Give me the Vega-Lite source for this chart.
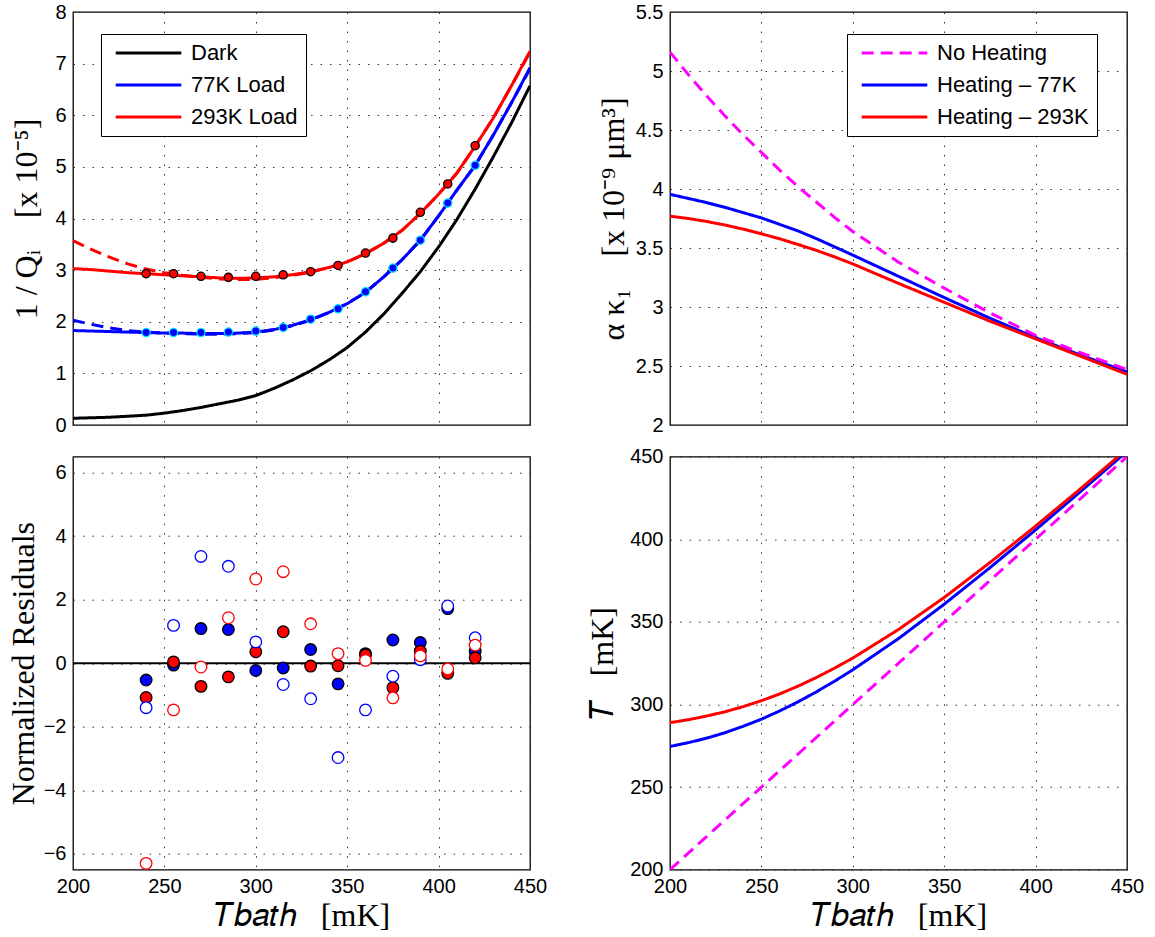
{
  "$schema": "https://vega.github.io/schema/vega-lite/v6.json",
  "background": "white",
  "padding": {"left": 6, "top": 1, "right": 5, "bottom": 5},
  "columns": 2,
  "spacing": {"row": 31.7, "column": 140},
  "bounds": "flush",
  "resolve": {
    "scale": {"color": "independent", "fill": "independent", "stroke": "independent", "strokeDash": "independent"},
    "legend": {"color": "independent", "fill": "independent", "stroke": "independent", "strokeDash": "independent"}
  },
  "config": {
    "font": "Liberation Sans",
    "view": {"stroke": "#000000", "strokeWidth": 1.3},
    "axis": {"labelFont": "Liberation Sans", "labelFontSize": 20, "labelColor": "#000000", "labelPadding": 7, "labelFlush": false, "labelOverlap": false, "ticks": false, "domain": false, "grid": true, "gridColor": "#333333", "gridDash": [1.5, 8], "gridWidth": 1, "titleFont": "Liberation Serif", "titleFontSize": 32, "titleFontWeight": "normal", "titleColor": "#000000"},
    "legend": {"symbolType": "stroke", "symbolSize": 4300, "symbolStrokeWidth": 3, "labelFont": "Liberation Sans", "labelFontSize": 22, "labelColor": "#000000", "strokeColor": "#000000", "fillColor": "#ffffff", "padding": 8, "rowPadding": 10, "clipHeight": 22, "labelOffset": 8, "symbolOffset": 5, "labelLimit": 400}
  },
  "datasets": {
    "tl_lines": [
      {"T":200,"v":0.13,"series":"Dark","style":"solid"},{"T":210,"v":0.14,"series":"Dark","style":"solid"},{"T":220,"v":0.15,"series":"Dark","style":"solid"},{"T":230,"v":0.17,"series":"Dark","style":"solid"},{"T":240,"v":0.19,"series":"Dark","style":"solid"},{"T":250,"v":0.23,"series":"Dark","style":"solid"},{"T":260,"v":0.28,"series":"Dark","style":"solid"},{"T":270,"v":0.34,"series":"Dark","style":"solid"},{"T":280,"v":0.41,"series":"Dark","style":"solid"},{"T":290,"v":0.48,"series":"Dark","style":"solid"},{"T":300,"v":0.57,"series":"Dark","style":"solid"},{"T":310,"v":0.71,"series":"Dark","style":"solid"},{"T":320,"v":0.87,"series":"Dark","style":"solid"},{"T":330,"v":1.05,"series":"Dark","style":"solid"},{"T":340,"v":1.26,"series":"Dark","style":"solid"},{"T":350,"v":1.50,"series":"Dark","style":"solid"},{"T":360,"v":1.80,"series":"Dark","style":"solid"},{"T":370,"v":2.15,"series":"Dark","style":"solid"},{"T":380,"v":2.55,"series":"Dark","style":"solid"},{"T":390,"v":2.97,"series":"Dark","style":"solid"},{"T":400,"v":3.45,"series":"Dark","style":"solid"},{"T":410,"v":3.98,"series":"Dark","style":"solid"},{"T":420,"v":4.57,"series":"Dark","style":"solid"},{"T":430,"v":5.20,"series":"Dark","style":"solid"},{"T":440,"v":5.86,"series":"Dark","style":"solid"},{"T":450,"v":6.57,"series":"Dark","style":"solid"},
      {"T":200,"v":1.83,"series":"77K Load","style":"solid"},{"T":210,"v":1.82,"series":"77K Load","style":"solid"},{"T":220,"v":1.81,"series":"77K Load","style":"solid"},{"T":230,"v":1.80,"series":"77K Load","style":"solid"},{"T":240,"v":1.79,"series":"77K Load","style":"solid"},{"T":250,"v":1.78,"series":"77K Load","style":"solid"},{"T":260,"v":1.78,"series":"77K Load","style":"solid"},{"T":270,"v":1.77,"series":"77K Load","style":"solid"},{"T":280,"v":1.77,"series":"77K Load","style":"solid"},{"T":290,"v":1.78,"series":"77K Load","style":"solid"},{"T":300,"v":1.80,"series":"77K Load","style":"solid"},{"T":310,"v":1.85,"series":"77K Load","style":"solid"},{"T":320,"v":1.93,"series":"77K Load","style":"solid"},{"T":330,"v":2.04,"series":"77K Load","style":"solid"},{"T":340,"v":2.18,"series":"77K Load","style":"solid"},{"T":350,"v":2.35,"series":"77K Load","style":"solid"},{"T":360,"v":2.57,"series":"77K Load","style":"solid"},{"T":370,"v":2.87,"series":"77K Load","style":"solid"},{"T":380,"v":3.20,"series":"77K Load","style":"solid"},{"T":390,"v":3.58,"series":"77K Load","style":"solid"},{"T":400,"v":4.05,"series":"77K Load","style":"solid"},{"T":410,"v":4.55,"series":"77K Load","style":"solid"},{"T":420,"v":5.03,"series":"77K Load","style":"solid"},{"T":430,"v":5.62,"series":"77K Load","style":"solid"},{"T":440,"v":6.25,"series":"77K Load","style":"solid"},{"T":450,"v":6.92,"series":"77K Load","style":"solid"},
      {"T":200,"v":2.03,"series":"77K Load","style":"dashed"},{"T":210,"v":1.95,"series":"77K Load","style":"dashed"},{"T":220,"v":1.88,"series":"77K Load","style":"dashed"},{"T":230,"v":1.83,"series":"77K Load","style":"dashed"},{"T":240,"v":1.80,"series":"77K Load","style":"dashed"},{"T":250,"v":1.78,"series":"77K Load","style":"dashed"},{"T":260,"v":1.77,"series":"77K Load","style":"dashed"},{"T":270,"v":1.76,"series":"77K Load","style":"dashed"},{"T":280,"v":1.76,"series":"77K Load","style":"dashed"},{"T":290,"v":1.77,"series":"77K Load","style":"dashed"},{"T":300,"v":1.79,"series":"77K Load","style":"dashed"},{"T":310,"v":1.84,"series":"77K Load","style":"dashed"},{"T":320,"v":1.92,"series":"77K Load","style":"dashed"},{"T":330,"v":2.03,"series":"77K Load","style":"dashed"},{"T":340,"v":2.18,"series":"77K Load","style":"dashed"},{"T":350,"v":2.35,"series":"77K Load","style":"dashed"},{"T":360,"v":2.57,"series":"77K Load","style":"dashed"},{"T":370,"v":2.87,"series":"77K Load","style":"dashed"},{"T":380,"v":3.20,"series":"77K Load","style":"dashed"},{"T":390,"v":3.58,"series":"77K Load","style":"dashed"},{"T":400,"v":4.05,"series":"77K Load","style":"dashed"},{"T":410,"v":4.55,"series":"77K Load","style":"dashed"},{"T":420,"v":5.03,"series":"77K Load","style":"dashed"},{"T":430,"v":5.62,"series":"77K Load","style":"dashed"},{"T":440,"v":6.25,"series":"77K Load","style":"dashed"},{"T":450,"v":6.90,"series":"77K Load","style":"dashed"},
      {"T":200,"v":3.03,"series":"293K Load","style":"solid"},{"T":210,"v":3.01,"series":"293K Load","style":"solid"},{"T":220,"v":2.98,"series":"293K Load","style":"solid"},{"T":230,"v":2.95,"series":"293K Load","style":"solid"},{"T":240,"v":2.93,"series":"293K Load","style":"solid"},{"T":250,"v":2.91,"series":"293K Load","style":"solid"},{"T":260,"v":2.89,"series":"293K Load","style":"solid"},{"T":270,"v":2.87,"series":"293K Load","style":"solid"},{"T":280,"v":2.85,"series":"293K Load","style":"solid"},{"T":290,"v":2.84,"series":"293K Load","style":"solid"},{"T":300,"v":2.85,"series":"293K Load","style":"solid"},{"T":310,"v":2.87,"series":"293K Load","style":"solid"},{"T":320,"v":2.91,"series":"293K Load","style":"solid"},{"T":330,"v":2.97,"series":"293K Load","style":"solid"},{"T":340,"v":3.05,"series":"293K Load","style":"solid"},{"T":350,"v":3.16,"series":"293K Load","style":"solid"},{"T":360,"v":3.32,"series":"293K Load","style":"solid"},{"T":370,"v":3.52,"series":"293K Load","style":"solid"},{"T":380,"v":3.77,"series":"293K Load","style":"solid"},{"T":390,"v":4.10,"series":"293K Load","style":"solid"},{"T":400,"v":4.47,"series":"293K Load","style":"solid"},{"T":410,"v":4.88,"series":"293K Load","style":"solid"},{"T":420,"v":5.40,"series":"293K Load","style":"solid"},{"T":430,"v":5.95,"series":"293K Load","style":"solid"},{"T":440,"v":6.58,"series":"293K Load","style":"solid"},{"T":450,"v":7.24,"series":"293K Load","style":"solid"},
      {"T":200,"v":3.57,"series":"293K Load","style":"dashed"},{"T":210,"v":3.40,"series":"293K Load","style":"dashed"},{"T":220,"v":3.25,"series":"293K Load","style":"dashed"},{"T":230,"v":3.12,"series":"293K Load","style":"dashed"},{"T":240,"v":3.02,"series":"293K Load","style":"dashed"},{"T":250,"v":2.95,"series":"293K Load","style":"dashed"},{"T":260,"v":2.90,"series":"293K Load","style":"dashed"},{"T":270,"v":2.86,"series":"293K Load","style":"dashed"},{"T":280,"v":2.83,"series":"293K Load","style":"dashed"},{"T":290,"v":2.82,"series":"293K Load","style":"dashed"},{"T":300,"v":2.82,"series":"293K Load","style":"dashed"},{"T":310,"v":2.85,"series":"293K Load","style":"dashed"},{"T":320,"v":2.90,"series":"293K Load","style":"dashed"},{"T":330,"v":2.96,"series":"293K Load","style":"dashed"},{"T":340,"v":3.05,"series":"293K Load","style":"dashed"},{"T":350,"v":3.16,"series":"293K Load","style":"dashed"},{"T":360,"v":3.32,"series":"293K Load","style":"dashed"},{"T":370,"v":3.52,"series":"293K Load","style":"dashed"},{"T":380,"v":3.77,"series":"293K Load","style":"dashed"},{"T":390,"v":4.10,"series":"293K Load","style":"dashed"},{"T":400,"v":4.47,"series":"293K Load","style":"dashed"},{"T":410,"v":4.88,"series":"293K Load","style":"dashed"},{"T":420,"v":5.40,"series":"293K Load","style":"dashed"},{"T":430,"v":5.95,"series":"293K Load","style":"dashed"},{"T":440,"v":6.58,"series":"293K Load","style":"dashed"},{"T":450,"v":7.22,"series":"293K Load","style":"dashed"}
    ],
    "tl_pts": [
      {"T":240,"v":1.79,"series":"77K Load"},{"T":255,"v":1.79,"series":"77K Load"},{"T":270,"v":1.79,"series":"77K Load"},{"T":285,"v":1.80,"series":"77K Load"},{"T":300,"v":1.82,"series":"77K Load"},{"T":315,"v":1.89,"series":"77K Load"},{"T":330,"v":2.05,"series":"77K Load"},{"T":345,"v":2.25,"series":"77K Load"},{"T":360,"v":2.58,"series":"77K Load"},{"T":375,"v":3.04,"series":"77K Load"},{"T":390,"v":3.58,"series":"77K Load"},{"T":405,"v":4.30,"series":"77K Load"},{"T":420,"v":5.03,"series":"77K Load"},
      {"T":240,"v":2.93,"series":"293K Load"},{"T":255,"v":2.93,"series":"293K Load"},{"T":270,"v":2.88,"series":"293K Load"},{"T":285,"v":2.86,"series":"293K Load"},{"T":300,"v":2.88,"series":"293K Load"},{"T":315,"v":2.91,"series":"293K Load"},{"T":330,"v":2.97,"series":"293K Load"},{"T":345,"v":3.09,"series":"293K Load"},{"T":360,"v":3.33,"series":"293K Load"},{"T":375,"v":3.62,"series":"293K Load"},{"T":390,"v":4.12,"series":"293K Load"},{"T":405,"v":4.67,"series":"293K Load"},{"T":420,"v":5.41,"series":"293K Load"}
    ],
    "tr_lines": [
      {"T":200,"v":3.955,"series":"Heating – 77K"},{"T":210,"v":3.92,"series":"Heating – 77K"},{"T":220,"v":3.885,"series":"Heating – 77K"},{"T":230,"v":3.845,"series":"Heating – 77K"},{"T":240,"v":3.80,"series":"Heating – 77K"},{"T":250,"v":3.755,"series":"Heating – 77K"},{"T":260,"v":3.70,"series":"Heating – 77K"},{"T":270,"v":3.645,"series":"Heating – 77K"},{"T":280,"v":3.58,"series":"Heating – 77K"},{"T":290,"v":3.51,"series":"Heating – 77K"},{"T":300,"v":3.44,"series":"Heating – 77K"},{"T":325,"v":3.26,"series":"Heating – 77K"},{"T":350,"v":3.08,"series":"Heating – 77K"},{"T":375,"v":2.905,"series":"Heating – 77K"},{"T":400,"v":2.74,"series":"Heating – 77K"},{"T":425,"v":2.59,"series":"Heating – 77K"},{"T":450,"v":2.45,"series":"Heating – 77K"},
      {"T":200,"v":3.77,"series":"Heating – 293K"},{"T":210,"v":3.75,"series":"Heating – 293K"},{"T":220,"v":3.725,"series":"Heating – 293K"},{"T":230,"v":3.695,"series":"Heating – 293K"},{"T":240,"v":3.66,"series":"Heating – 293K"},{"T":250,"v":3.62,"series":"Heating – 293K"},{"T":260,"v":3.578,"series":"Heating – 293K"},{"T":270,"v":3.53,"series":"Heating – 293K"},{"T":280,"v":3.48,"series":"Heating – 293K"},{"T":290,"v":3.425,"series":"Heating – 293K"},{"T":300,"v":3.365,"series":"Heating – 293K"},{"T":325,"v":3.20,"series":"Heating – 293K"},{"T":350,"v":3.04,"series":"Heating – 293K"},{"T":375,"v":2.88,"series":"Heating – 293K"},{"T":400,"v":2.73,"series":"Heating – 293K"},{"T":425,"v":2.58,"series":"Heating – 293K"},{"T":450,"v":2.43,"series":"Heating – 293K"},
      {"T":200,"v":5.16,"series":"No Heating"},{"T":210,"v":4.97,"series":"No Heating"},{"T":220,"v":4.79,"series":"No Heating"},{"T":230,"v":4.62,"series":"No Heating"},{"T":240,"v":4.46,"series":"No Heating"},{"T":250,"v":4.31,"series":"No Heating"},{"T":260,"v":4.16,"series":"No Heating"},{"T":270,"v":4.02,"series":"No Heating"},{"T":280,"v":3.89,"series":"No Heating"},{"T":290,"v":3.76,"series":"No Heating"},{"T":300,"v":3.64,"series":"No Heating"},{"T":325,"v":3.38,"series":"No Heating"},{"T":350,"v":3.16,"series":"No Heating"},{"T":375,"v":2.95,"series":"No Heating"},{"T":400,"v":2.76,"series":"No Heating"},{"T":425,"v":2.61,"series":"No Heating"},{"T":450,"v":2.47,"series":"No Heating"}
    ],
    "bl_pts": [
      {"T":240,"r":-0.53,"kind":"77K heating"},{"T":255,"r":-0.06,"kind":"77K heating"},{"T":270,"r":1.09,"kind":"77K heating"},{"T":285,"r":1.06,"kind":"77K heating"},{"T":300,"r":-0.23,"kind":"77K heating"},{"T":315,"r":-0.15,"kind":"77K heating"},{"T":330,"r":0.43,"kind":"77K heating"},{"T":345,"r":-0.65,"kind":"77K heating"},{"T":360,"r":0.30,"kind":"77K heating"},{"T":375,"r":0.73,"kind":"77K heating"},{"T":390,"r":0.65,"kind":"77K heating"},{"T":405,"r":1.72,"kind":"77K heating"},{"T":420,"r":0.38,"kind":"77K heating"},
      {"T":240,"r":-1.08,"kind":"293K heating"},{"T":255,"r":0.04,"kind":"293K heating"},{"T":270,"r":-0.73,"kind":"293K heating"},{"T":285,"r":-0.43,"kind":"293K heating"},{"T":300,"r":0.36,"kind":"293K heating"},{"T":315,"r":0.99,"kind":"293K heating"},{"T":330,"r":-0.09,"kind":"293K heating"},{"T":345,"r":-0.08,"kind":"293K heating"},{"T":360,"r":0.26,"kind":"293K heating"},{"T":375,"r":-0.77,"kind":"293K heating"},{"T":390,"r":0.38,"kind":"293K heating"},{"T":405,"r":-0.32,"kind":"293K heating"},{"T":420,"r":0.17,"kind":"293K heating"},
      {"T":240,"r":-1.40,"kind":"77K no heating"},{"T":255,"r":1.19,"kind":"77K no heating"},{"T":270,"r":3.36,"kind":"77K no heating"},{"T":285,"r":3.05,"kind":"77K no heating"},{"T":300,"r":0.67,"kind":"77K no heating"},{"T":315,"r":-0.67,"kind":"77K no heating"},{"T":330,"r":-1.12,"kind":"77K no heating"},{"T":345,"r":-2.97,"kind":"77K no heating"},{"T":360,"r":-1.47,"kind":"77K no heating"},{"T":375,"r":-0.41,"kind":"77K no heating"},{"T":390,"r":0.11,"kind":"77K no heating"},{"T":405,"r":1.80,"kind":"77K no heating"},{"T":420,"r":0.80,"kind":"77K no heating"},
      {"T":240,"r":-6.30,"kind":"293K no heating"},{"T":255,"r":-1.47,"kind":"293K no heating"},{"T":270,"r":-0.12,"kind":"293K no heating"},{"T":285,"r":1.43,"kind":"293K no heating"},{"T":300,"r":2.65,"kind":"293K no heating"},{"T":315,"r":2.88,"kind":"293K no heating"},{"T":330,"r":1.24,"kind":"293K no heating"},{"T":345,"r":0.30,"kind":"293K no heating"},{"T":360,"r":0.09,"kind":"293K no heating"},{"T":375,"r":-1.09,"kind":"293K no heating"},{"T":390,"r":0.23,"kind":"293K no heating"},{"T":405,"r":-0.18,"kind":"293K no heating"},{"T":420,"r":0.57,"kind":"293K no heating"}
    ],
    "br_lines": [
      {"T":200,"v":274.6,"series":"Heating – 77K"},{"T":210,"v":276.9,"series":"Heating – 77K"},{"T":220,"v":279.6,"series":"Heating – 77K"},{"T":230,"v":282.9,"series":"Heating – 77K"},{"T":240,"v":286.8,"series":"Heating – 77K"},{"T":250,"v":291.1,"series":"Heating – 77K"},{"T":260,"v":296.1,"series":"Heating – 77K"},{"T":270,"v":301.6,"series":"Heating – 77K"},{"T":280,"v":307.6,"series":"Heating – 77K"},{"T":290,"v":314.1,"series":"Heating – 77K"},{"T":300,"v":321.0,"series":"Heating – 77K"},{"T":325,"v":339.9,"series":"Heating – 77K"},{"T":350,"v":360.7,"series":"Heating – 77K"},{"T":375,"v":382.8,"series":"Heating – 77K"},{"T":400,"v":405.7,"series":"Heating – 77K"},{"T":425,"v":429.3,"series":"Heating – 77K"},{"T":450,"v":453.2,"series":"Heating – 77K"},
      {"T":200,"v":289.0,"series":"Heating – 293K"},{"T":210,"v":290.8,"series":"Heating – 293K"},{"T":220,"v":293.0,"series":"Heating – 293K"},{"T":230,"v":295.6,"series":"Heating – 293K"},{"T":240,"v":298.7,"series":"Heating – 293K"},{"T":250,"v":302.3,"series":"Heating – 293K"},{"T":260,"v":306.4,"series":"Heating – 293K"},{"T":270,"v":311.1,"series":"Heating – 293K"},{"T":280,"v":316.3,"series":"Heating – 293K"},{"T":290,"v":322.0,"series":"Heating – 293K"},{"T":300,"v":328.1,"series":"Heating – 293K"},{"T":325,"v":345.4,"series":"Heating – 293K"},{"T":350,"v":364.8,"series":"Heating – 293K"},{"T":375,"v":385.9,"series":"Heating – 293K"},{"T":400,"v":408.0,"series":"Heating – 293K"},{"T":425,"v":431.0,"series":"Heating – 293K"},{"T":450,"v":454.6,"series":"Heating – 293K"},
      {"T":200,"v":200,"series":"No Heating"},{"T":250,"v":250,"series":"No Heating"},{"T":300,"v":300,"series":"No Heating"},{"T":350,"v":350,"series":"No Heating"},{"T":400,"v":400,"series":"No Heating"},{"T":450,"v":450,"series":"No Heating"}
    ],
    "zero": [{"ref": 0}]
  },
  "concat": [
    {
      "width": 457, "height": 413,
      "layer": [
        {
          "data": {"name": "tl_lines"},
          "mark": {"type": "line", "strokeWidth": 3, "clip": true},
          "encoding": {
            "x": {"field": "T", "type": "quantitative", "scale": {"domain": [200, 450], "nice": false, "zero": false}, "axis": {"labels": false, "title": null, "values": [200, 250, 300, 350, 400, 450]}},
            "y": {"field": "v", "type": "quantitative", "scale": {"domain": [0, 8], "nice": false, "zero": false}, "axis": {"values": [0, 1, 2, 3, 4, 5, 6, 7, 8], "title": "1 / Qᵢ \u00a0\u00a0\u00a0[x 10⁻⁵]", "titlePadding": 11}},
            "color": {"field": "series", "type": "nominal", "scale": {"domain": ["Dark", "77K Load", "293K Load"], "range": ["#000000", "#0000ff", "#ff0000"]}, "legend": {"title": null, "orient": "none", "legendX": 28, "legendY": 22, "labelExpr": "datum.label + '\u00a0\u00a0'"}},
            "strokeDash": {"field": "style", "type": "nominal", "scale": {"domain": ["solid", "dashed"], "range": [[1, 0], [12, 7]]}, "legend": null}
          }
        },
        {
          "data": {"name": "tl_pts"},
          "mark": {"type": "circle", "size": 68, "strokeWidth": 1.3, "opacity": 1},
          "encoding": {
            "x": {"field": "T", "type": "quantitative"},
            "y": {"field": "v", "type": "quantitative"},
            "fill": {"field": "series", "type": "nominal", "scale": {"domain": ["77K Load", "293K Load"], "range": ["#0000ff", "#ff0000"]}, "legend": null},
            "stroke": {"field": "series", "type": "nominal", "scale": {"domain": ["77K Load", "293K Load"], "range": ["#00e5ff", "#000000"]}, "legend": null}
          }
        }
      ]
    },
    {
      "width": 457, "height": 413,
      "data": {"name": "tr_lines"},
      "mark": {"type": "line", "strokeWidth": 3, "clip": true},
      "encoding": {
        "x": {"field": "T", "type": "quantitative", "scale": {"domain": [200, 450], "nice": false, "zero": false}, "axis": {"labels": false, "title": null, "values": [200, 250, 300, 350, 400, 450]}},
        "y": {"field": "v", "type": "quantitative", "scale": {"domain": [2, 5.5], "nice": false, "zero": false}, "axis": {"values": [2, 2.5, 3, 3.5, 4, 4.5, 5, 5.5], "format": "~g", "title": "α κ₁ \u00a0\u00a0\u00a0[x 10⁻⁹ μm³]", "titlePadding": 5}},
        "color": {"field": "series", "type": "nominal", "scale": {"domain": ["No Heating", "Heating – 77K", "Heating – 293K"], "range": ["#ff00ff", "#0000ff", "#ff0000"]}, "legend": {"title": null, "orient": "none", "legendX": 177, "legendY": 22, "labelExpr": "datum.label + '\u00a0'"}},
        "strokeDash": {"field": "series", "type": "nominal", "scale": {"domain": ["No Heating", "Heating – 77K", "Heating – 293K"], "range": [[12, 7], [1, 0], [1, 0]]}, "legend": {"title": null, "orient": "none", "legendX": 177, "legendY": 22, "labelExpr": "datum.label + '\u00a0'"}}
      }
    },
    {
      "width": 457, "height": 413,
      "layer": [
        {
          "data": {"name": "zero"},
          "mark": {"type": "rule", "color": "#000000", "strokeWidth": 2},
          "encoding": {"y": {"field": "ref", "type": "quantitative"}}
        },
        {
          "data": {"name": "bl_pts"},
          "mark": {"type": "circle", "size": 135, "strokeWidth": 1.3, "opacity": 1},
          "encoding": {
            "x": {"field": "T", "type": "quantitative", "scale": {"domain": [200, 450], "nice": false, "zero": false}, "axis": {"values": [200, 250, 300, 350, 400, 450], "title": "𝑇𝑏𝑎𝑡ℎ \u00a0\u00a0[mK]", "titlePadding": 4}},
            "y": {"field": "r", "type": "quantitative", "scale": {"domain": [-6.5, 6.5], "nice": false, "zero": false}, "axis": {"values": [-6, -4, -2, 0, 2, 4, 6], "title": "Normalized Residuals", "titlePadding": 3}},
            "fill": {"field": "kind", "type": "nominal", "scale": {"domain": ["77K heating", "293K heating", "77K no heating", "293K no heating"], "range": ["#0000ff", "#ff0000", "#ffffff", "#ffffff"]}, "legend": null},
            "stroke": {"field": "kind", "type": "nominal", "scale": {"domain": ["77K heating", "293K heating", "77K no heating", "293K no heating"], "range": ["#000000", "#000000", "#0000ff", "#ff0000"]}, "legend": null}
          }
        }
      ]
    },
    {
      "width": 457, "height": 413,
      "data": {"name": "br_lines"},
      "mark": {"type": "line", "strokeWidth": 3, "clip": true},
      "encoding": {
        "x": {"field": "T", "type": "quantitative", "scale": {"domain": [200, 450], "nice": false, "zero": false}, "axis": {"values": [200, 250, 300, 350, 400, 450], "title": "𝑇𝑏𝑎𝑡ℎ \u00a0\u00a0[mK]", "titlePadding": 4}},
        "y": {"field": "v", "type": "quantitative", "scale": {"domain": [200, 450], "nice": false, "zero": false}, "axis": {"values": [200, 250, 300, 350, 400, 450], "title": "𝑇 \u00a0\u00a0[mK]", "titlePadding": 10}},
        "color": {"field": "series", "type": "nominal", "scale": {"domain": ["No Heating", "Heating – 77K", "Heating – 293K"], "range": ["#ff00ff", "#0000ff", "#ff0000"]}, "legend": null},
        "strokeDash": {"field": "series", "type": "nominal", "scale": {"domain": ["No Heating", "Heating – 77K", "Heating – 293K"], "range": [[12, 7], [1, 0], [1, 0]]}, "legend": null}
      }
    }
  ]
}
